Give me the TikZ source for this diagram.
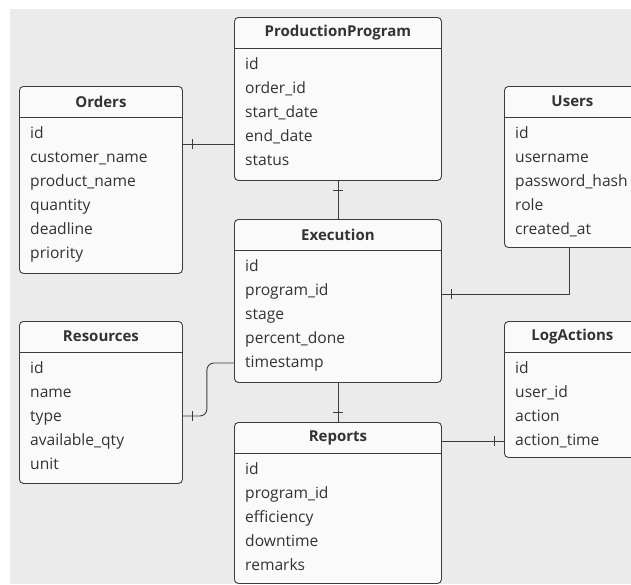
\documentclass[tikz,border=0pt]{standalone}
\usepackage{fontspec}
\setmainfont{Open Sans}
\usepackage{tikz}
\usetikzlibrary{arrows.meta, decorations.markings}
\usepackage{xcolor}

\definecolor{bggray}{HTML}{EBEBEB}
\definecolor{boxfill}{HTML}{FAFAFA}
\definecolor{linecol}{HTML}{3C3C3C}
\definecolor{txtcol}{HTML}{333333}

% tabela: nome, canto, largura, altura, titulo, campos
\newcommand{\ertable}[6]{%
  \node[tblbox, minimum width=#3, minimum height=#4, anchor=north west] (#1) at (#2) {};
  \node[tblhead, minimum width=#3] (#1-head) at (#1.north) {#5};
  \draw[linecol, line width=0.9pt] (#1-head.south -| #1.west) -- (#1-head.south -| #1.east);
  \foreach \fld [count=\i] in {#6}
    \node[tblfield] (#1-\i) at ([xshift=11pt, yshift={-49pt-24pt*(\i-1)}]#1.north west) {\fld};
}

\begin{document}
\begin{tikzpicture}[x=1pt, y=-1pt,
    tblbox/.style={draw=linecol, line width=0.9pt, fill=boxfill, rounded corners=4pt, inner sep=0pt},
    tblhead/.style={anchor=north, minimum height=31pt, inner sep=0pt, text=txtcol,
      font=\fontsize{15}{18}\selectfont\bfseries},
    tblfield/.style={anchor=west, inner sep=0pt, text height=11pt, text depth=4pt, text=txtcol,
      font=\fontsize{15.6}{18}\selectfont},
    rel/.style={draw=linecol, line width=0.9pt, postaction={decorate, decoration={markings,
      mark=at position 10pt with {\draw[linecol, line width=0.9pt] (0,-5pt) -- (0,5pt);}}}}]
        \useasboundingbox (0,0) rectangle (631,584);
        \clip (0,0) rectangle (631,584);
        \fill[bggray] (10,9) rectangle (631,584);

        % Tabelas da esquerda
        \ertable{orders}{19,86}{163pt}{187pt}{Orders}{id, customer\_name, product\_name, quantity, deadline, priority}
        \ertable{res}{19,321}{163pt}{162pt}{Resources}{id, name, type, available\_qty, unit}

        % Tabelas do meio
        \ertable{pp}{234,17}{207pt}{163pt}{ProductionProgram}{id, order\_id, start\_date, end\_date, status}
        \ertable{exe}{234,219}{207pt}{163pt}{Execution}{id, program\_id, stage, percent\_done, timestamp}
        \ertable{reports}{234,422}{207pt}{161pt}{Reports}{id, program\_id, efficiency, downtime, remarks}

        % Tabelas da direita
        \ertable{users}{504,86}{136pt}{161pt}{Users}{id, username, password\_hash, role, created\_at}
        \ertable{log}{504,321}{136pt}{136pt}{LogActions}{id, user\_id, action, action\_time}

        % Ligacoes
        \draw[rel] (orders.east |- 0,144) -- (pp.west |- 0,144);
        \draw[rel] (pp.south) -- (exe.north);
        \draw[rel] (exe.east |- 0,294) -| (users.south -| 569,0);
        \draw[rel, rounded corners=7pt] (res.east |- 0,416) -- ++(24,0) |- (exe.west |- 0,363);
        \draw[rel] (reports.north) -- (exe.south);
        \draw[rel] (log.west |- 0,441) -- (reports.east |- 0,441);
    \end{tikzpicture}
\end{document}
